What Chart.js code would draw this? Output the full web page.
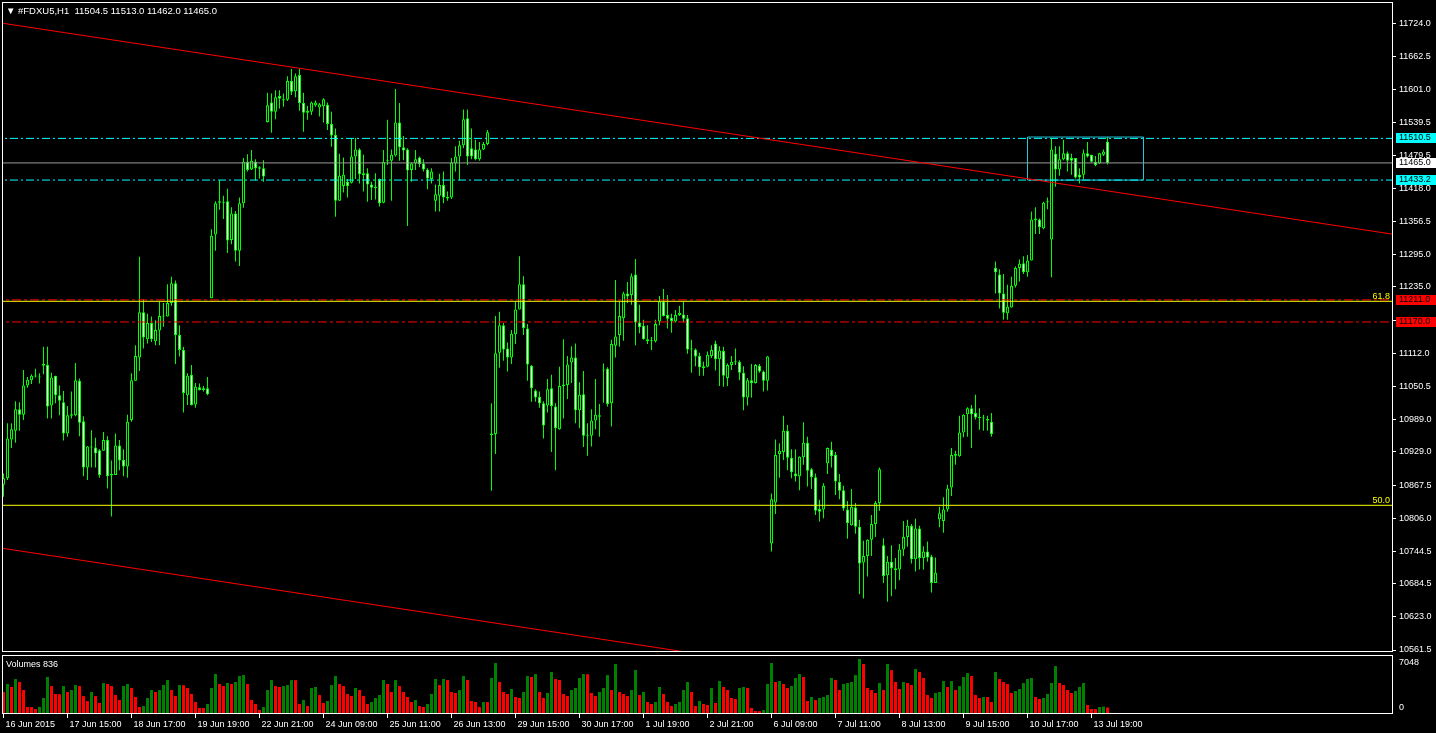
<!DOCTYPE html>
<html>
<head>
<meta charset="utf-8">
<title>#FDXU5,H1</title>
<script src="https://cdn.jsdelivr.net/npm/chart.js@4.4.1/dist/chart.umd.min.js"></script>
<style>
  html, body { margin: 0; padding: 0; background: #000; overflow: hidden; }
  canvas { position: absolute; left: 0; }
  #priceChart { top: 0; }
  #volumeChart { top: 654px; }
</style>
</head>
<body>
<canvas id="priceChart" width="1436" height="654"></canvas>
<canvas id="volumeChart" width="1436" height="79"></canvas>
<script>
// FDXU5 H1, 16 Jun 2015 -> 13 Jul 2015 (one value per hourly bar)
const opens = [
  10868,10880,10952,10968,11008,10998,11052,11062,11069,11069,
  11089,11090,11015,11070,11034,11021,10963,10996,10997,11061,
  10986,10900,10939,10937,10932,10931,10951,10888,10886,10941,
  10914,10902,10988,11061,11104,11188,11138,11168,11134,11154,
  11181,11180,11205,11242,11146,11118,11034,11072,11017,11049,
  11044,11047,11214,11332,11391,11393,11394,11322,11371,11302,
  11390,11467,11453,11467,11457,11455,11541,11577,11560,11589,
  11583,11582,11617,11598,11628,11576,11562,11560,11572,11568,
  11570,11573,11537,11517,11395,11422,11430,11428,11477,11490,
  11446,11446,11425,11421,11435,11391,11468,11469,11479,11540,
  11494,11490,11452,11464,11475,11464,11453,11435,11395,11404,
  11424,11402,11401,11464,11477,11498,11548,11492,11490,11472,
  11490,11500,10963,10962,11113,11164,11121,11104,11147,11193,
  11240,11158,11089,11043,11031,11019,11015,11047,11013,10971,
  11054,11053,11095,11104,11006,11036,10960,10959,10987,10997,
  11082,11083,11019,11126,11146,11177,11223,11220,11258,11169,
  11163,11138,11135,11134,11171,11208,11183,11178,11171,11183,
  11184,11177,11121,11119,11107,11088,11087,11107,11130,11101,
  11116,11066,11090,11096,11096,11076,11030,11062,11057,11089,
  11078,11061,10759,10835,10925,10929,10968,10918,10889,10884,
  10919,10946,10897,10882,10823,10822,10908,10933,10923,10873,
  10858,10822,10793,10826,10790,10724,10736,10766,10795,10834,
  10756,10700,10725,10713,10711,10748,10771,10792,10730,10787,
  10732,10744,10735,10686,10804,10801,10822,10863,10925,10921,
  10965,10999,11010,11001,10993,10993,10990,10985,11270,11258,
  11223,11186,11197,11237,11270,11279,11262,11284,11359,11360,
  11344,11393,11323,11482,11453,11472,11483,11474,11474,11443,
  11443,11483,11480,11467,11464,11480,11504.5
];
const highs = [
  10889,10982,10982,11023,11021,11081,11068,11073,11083,11075,
  11124,11124,11076,11070,11052,11042,11014,11041,11094,11065,
  10995,10940,10969,10955,10934,10966,10958,10913,10963,10951,
  10934,10998,11075,11127,11291,11212,11185,11180,11173,11208,
  11205,11240,11254,11247,11164,11124,11075,11090,11057,11056,
  11051,11068,11342,11394,11433,11404,11417,11383,11376,11401,
  11474,11481,11489,11472,11459,11470,11595,11594,11600,11600,
  11594,11626,11639,11631,11639,11595,11571,11579,11581,11576,
  11585,11577,11560,11529,11482,11475,11435,11511,11511,11492,
  11480,11455,11430,11446,11436,11489,11545,11490,11602,11576,
  11515,11492,11466,11489,11477,11472,11455,11455,11425,11445,
  11449,11412,11474,11496,11506,11564,11564,11529,11508,11504,
  11504,11526,11019,11181,11189,11168,11132,11155,11208,11292,
  11255,11166,11090,11045,11041,11023,11064,11072,11019,11087,
  11138,11107,11125,11130,11058,11079,10982,11008,11064,11018,
  11093,11086,11137,11248,11208,11226,11244,11260,11287,11202,
  11174,11164,11142,11174,11218,11231,11220,11185,11192,11200,
  11208,11183,11137,11121,11113,11096,11115,11127,11135,11125,
  11124,11093,11107,11121,11099,11088,11066,11092,11092,11092,
  11080,11107,10852,10952,10945,10996,10979,10934,10934,10921,
  10984,10957,10899,10889,10840,10871,10937,10948,10929,10888,
  10866,10838,10860,10834,10803,10764,10767,10812,10838,10900,
  10769,10736,10756,10732,10758,10801,10803,10795,10805,10792,
  10754,10763,10738,10733,10827,10845,10868,10936,10931,10996,
  10999,11012,11016,11035,11010,10998,10996,11001,11282,11268,
  11259,11239,11254,11273,11286,11292,11294,11375,11383,11362,
  11393,11401,11511,11496,11496,11508,11486,11482,11474,11455,
  11490,11504,11480,11478,11484,11490,11513.0
];
const lows = [
  10846,10877,10936,10946,10968,10988,11048,11055,11067,11056,
  11073,10991,10991,11019,10997,10950,10957,10991,10995,10958,
  10884,10877,10900,10900,10881,10931,10861,10809,10886,10895,
  10884,10881,10985,11061,11079,11121,11130,11133,11127,11127,
  11161,11180,11200,11092,11106,11002,11016,11015,11011,11043,
  11041,11034,11214,11302,11378,11361,11298,11314,11282,11274,
  11382,11449,11452,11433,11436,11430,11540,11521,11546,11566,
  11569,11580,11591,11587,11562,11523,11545,11554,11569,11551,
  11540,11526,11495,11365,11395,11410,11401,11427,11435,11427,
  11412,11393,11396,11397,11384,11390,11461,11395,11477,11469,
  11470,11348,11430,11452,11457,11449,11416,11427,11375,11375,
  11390,11395,11398,11449,11433,11492,11461,11472,11470,11469,
  11489,11498,10857,10925,11085,11098,11078,11092,11129,11193,
  11146,11061,11022,11022,11011,10954,11002,10929,10895,10970,
  10991,11027,11057,10982,10973,10938,10922,10939,10971,10957,
  11020,11013,10976,11104,11124,11135,11205,11202,11127,11149,
  11137,11129,11118,11132,11164,11180,11158,11150,11169,11181,
  11169,11111,11076,11088,11070,11070,11086,11103,11080,11051,
  11050,11051,11081,11090,11062,11006,11015,11030,11056,11076,
  11041,11043,10744,10814,10881,10914,10895,10880,10874,10858,
  10905,10865,10860,10812,10800,10806,10888,10900,10849,10841,
  10820,10768,10792,10777,10665,10657,10698,10736,10771,10820,
  10686,10651,10661,10674,10691,10736,10753,10722,10707,10711,
  10711,10725,10668,10686,10789,10779,10818,10847,10905,10920,
  10956,10957,10936,10989,10970,10968,10968,10957,11223,11195,
  11174,11174,11197,11234,11245,11259,11254,11284,11333,11333,
  11342,11379,11253,11421,11441,11470,11449,11443,11436,11427,
  11435,11475,11466,11459,11463,11478,11462.0
];
const closes = [
  10880,10954,10971,11008,10998,11052,11063,11070,11070,11067,
  11092,11013,11067,11034,11024,10963,10997,10999,11062,10983,
  10900,10939,10937,10926,10886,10951,10884,10885,10941,10913,
  10902,10985,11062,11107,11188,11141,11168,11138,11155,11181,
  11180,11205,11242,11146,11118,11038,11070,11016,11050,11044,
  11047,11036,11330,11390,11394,11391,11321,11371,11302,11390,
  11467,11452,11469,11455,11454,11440,11572,11560,11587,11584,
  11581,11617,11597,11626,11576,11558,11558,11577,11577,11574,
  11583,11537,11516,11395,11441,11443,11422,11477,11490,11444,
  11442,11425,11419,11418,11390,11467,11470,11480,11540,11494,
  11488,11451,11464,11472,11463,11453,11436,11449,11407,11424,
  11401,11399,11466,11477,11498,11546,11477,11477,11472,11490,
  11500,11522,10960,11112,11164,11119,11104,11148,11193,11240,
  11159,11091,11047,11030,11019,10978,11045,11014,10973,11051,
  11051,11091,11104,11006,11035,10959,10958,10987,10998,10994,
  11080,11018,11129,11143,11181,11223,11217,11255,11169,11160,
  11138,11134,11134,11166,11208,11181,11176,11172,11183,11187,
  11176,11119,11119,11106,11086,11084,11109,11118,11101,11117,
  11070,11090,11096,11098,11076,11030,11062,11057,11090,11078,
  11061,11106,10841,10923,10931,10968,10918,10891,10884,10920,
  10946,10894,10882,10820,10818,10866,10936,10921,10874,10857,
  10824,10797,10827,10790,10722,10736,10766,10795,10834,10897,
  10699,10725,10713,10710,10748,10771,10792,10730,10787,10732,
  10744,10733,10686,10705,10815,10822,10861,10923,10922,10965,
  10998,11010,10999,10993,10992,10991,10987,10962,11262,11223,
  11187,11198,11237,11270,11278,11262,11284,11360,11362,11346,
  11391,11392,11490,11453,11472,11483,11469,11469,11438,11438,
  11483,11477,11467,11461,11483,11486,11465.0
];
const volumes = [
  2820,3840,3460,4480,4100,3070,900,880,640,910,2050,4740,
  3580,2560,2540,3580,2820,3070,3710,3580,2300,1660,2820,2300,
  1410,3970,3840,3580,2430,1790,3580,3840,3330,2180,900,1020,
  2050,3070,2820,3070,3710,4350,3070,2300,3710,3690,3330,2560,
  1540,770,760,1280,3330,5120,3840,3580,3970,3840,4100,4860,
  4990,3840,1790,1280,510,900,3070,4350,3580,3460,3580,3710,
  4350,4340,1280,1790,1020,3330,3460,2430,1410,1660,3710,4860,
  3840,3580,2560,2300,3330,3070,2300,1280,1540,2050,2430,4350,
  3840,2820,4350,3580,2820,2180,1540,1790,1020,900,1280,2560,
  4480,3710,4480,4350,2820,2690,3070,4860,4350,1660,1540,900,
  1540,1530,4610,6530,4100,2820,2560,3200,2180,2050,2820,4860,
  4740,5120,2820,2050,2690,5380,4480,4350,2560,2300,3070,3330,
  4610,5120,5100,2690,2300,2820,3330,4990,3070,6400,2820,2560,
  2300,3070,5630,2430,2820,1540,1280,1540,3460,2560,1540,1020,
  1280,1540,3070,4100,2820,1020,1660,1280,1150,3330,1410,4220,
  3460,3070,2050,1920,3330,3460,3330,770,380,370,510,3840,
  6530,4100,4220,3840,3330,3580,4610,5120,4740,1660,2180,1790,
  2050,2180,2430,4610,4350,3070,3840,3970,4100,4990,7048,6400,
  3330,3070,2690,3970,3070,6400,5630,4100,3200,4100,3970,3710,
  5760,5380,4610,2430,2050,2690,2820,4220,3460,4220,3070,3580,
  4740,5250,4860,2430,2050,2180,2170,1540,5380,4480,4100,3840,
  2690,2940,3200,3970,4480,4610,2180,1920,2050,2560,3970,6140,
  3970,3710,3070,2690,2940,3460,3970,1150,640,630,900,950,836
];

// time axis: one label every 16 bars
const timeLabelBars = [0,16,32,48,64,80,96,112,128,144,160,176,192,208,224,240,256,272];
const timeLabels = ["16 Jun 2015","17 Jun 15:00","18 Jun 17:00","19 Jun 19:00","22 Jun 21:00",
  "24 Jun 09:00","25 Jun 11:00","26 Jun 13:00","29 Jun 15:00","30 Jun 17:00","1 Jul 19:00",
  "2 Jul 21:00","6 Jul 09:00","7 Jul 11:00","8 Jul 13:00","9 Jul 15:00","10 Jul 17:00","13 Jul 19:00"];
const priceTicks = [11724.0,11662.5,11601.0,11539.5,11479.5,11418.0,11356.5,11295.0,11235.0,11173.5,
  11112.0,11050.5,10989.0,10929.0,10867.5,10806.0,10744.5,10684.5,10623.0,10561.5];

// objects drawn on the chart
const cyanLevels = [11510.5, 11433.2];
const redLevels = [11211.0, 11170.0];
const fibLevels = [11208.3, 10829.9];
const fibNames = ["61.8", "50.0"];
const upperTrend = [[-1, 11725], [348, 11332]];
const lowerTrend = [[-1, 10751], [348, 10358]];
const boxBars = [256, 285];
const boxPrices = [11513.0, 11433.2];

const X_MIN = -0.375, X_MAX = 347.125;
const PRICE_MIN = 10557.8, PRICE_MAX = 11763.5;
const VOL_MAX = 7432;
const FONT = "'Liberation Sans', 'DejaVu Sans', sans-serif";
const LIME = "#00ff00";
const CYAN = "#00ffff";

Chart.defaults.font.family = FONT;
Chart.defaults.font.size = 9;
Chart.defaults.color = "#ffffff";

const last = closes.length - 1;
const bars = closes.map((_, i) => i);

function hLine(price, color, dash) {
  return {
    type: "line", order: 1, borderColor: color, borderWidth: 1, borderDash: dash,
    pointRadius: 0, fill: false,
    data: [{ x: X_MIN - 2, y: price }, { x: X_MAX + 2, y: price }],
  };
}

function trendLine(pts) {
  return {
    type: "line", order: 1, borderColor: "#ff0000", borderWidth: 1,
    pointRadius: 0, fill: false,
    data: pts.map(([x, y]) => ({ x, y })),
  };
}

// frame + texts + price tags on the right scale
const priceOverlay = {
  id: "priceOverlay",
  afterDraw(chart) {
    const { ctx, chartArea: a } = chart;
    const y = chart.scales.y;
    ctx.save();
    ctx.strokeStyle = "#ffffff";
    ctx.lineWidth = 1;
    ctx.strokeRect(a.left + 0.5, a.top + 0.5, a.right - a.left, a.bottom - a.top - 1);

    ctx.font = "9.5px " + FONT;
    ctx.textBaseline = "middle";
    ctx.fillStyle = "#ffffff";
    ctx.fillText("\u25BC", 6, 11);
    const ohlc = [opens[last], highs[last], lows[last], closes[last]].map((v) => v.toFixed(1)).join(" ");
    ctx.fillText("#FDXU5,H1  " + ohlc, 18, 11);

    ctx.font = "9px " + FONT;
    ctx.fillStyle = "#ffff00";
    ctx.textAlign = "right";
    fibLevels.forEach((p, i) => ctx.fillText(fibNames[i], a.right - 2, y.getPixelForValue(p) - 5));

    const tags = [
      { p: cyanLevels[0], bg: CYAN },
      { p: closes[last], bg: "#ffffff" },
      { p: cyanLevels[1], bg: CYAN },
      { p: redLevels[0], bg: "#ff0000" },
      { p: redLevels[1], bg: "#ff0000" },
    ];
    ctx.textAlign = "left";
    tags.forEach((t) => {
      const py = Math.round(y.getPixelForValue(t.p));
      ctx.fillStyle = t.bg;
      ctx.fillRect(a.right + 4, py - 5, 40, 10);
      ctx.fillStyle = "#000000";
      ctx.fillText(t.p.toFixed(1), a.right + 7, py);
    });
    ctx.restore();
  },
};

const volumeOverlay = {
  id: "volumeOverlay",
  afterDraw(chart) {
    const { ctx, chartArea: a } = chart;
    ctx.save();
    ctx.strokeStyle = "#ffffff";
    ctx.lineWidth = 1;
    ctx.strokeRect(a.left + 0.5, a.top - 0.5, a.right - a.left, a.bottom - a.top);
    ctx.font = "9px " + FONT;
    ctx.textBaseline = "middle";
    ctx.fillStyle = "#ffffff";
    ctx.fillText("Volumes " + volumes[last], 6, 11);
    ctx.fillText(String(Math.max(...volumes)), a.right + 7, a.top + 7);
    ctx.fillText("0", a.right + 7, a.bottom - 6);
    ctx.restore();
  },
};

document.addEventListener("DOMContentLoaded", () => {
  const bodyColors = bars.map((i) => (closes[i] < opens[i] ? "#ffffff" : "#000000"));

  const datasets = [
    {
      // candle bodies
      type: "bar", order: 10, grouped: false, barThickness: 3, minBarLength: 1,
      inflateAmount: 0, borderSkipped: false, borderWidth: 1,
      borderColor: LIME, backgroundColor: bodyColors,
      data: bars.map((i) => ({ x: i, y: [Math.min(opens[i], closes[i]), Math.max(opens[i], closes[i])] })),
    },
    {
      // wicks
      type: "bar", order: 11, grouped: false, barThickness: 1, minBarLength: 1,
      inflateAmount: 0, borderWidth: 0, backgroundColor: LIME,
      data: bars.map((i) => ({ x: i, y: [lows[i], highs[i]] })),
    },
    trendLine(upperTrend),
    trendLine(lowerTrend),
    hLine(fibLevels[0], "#ffff00", []),
    hLine(fibLevels[1], "#ffff00", []),
    hLine(closes[last], "#9a9a9a", []),
    hLine(cyanLevels[0], CYAN, [8, 3, 2, 3]),
    hLine(cyanLevels[1], CYAN, [8, 3, 2, 3]),
    hLine(redLevels[0], "#ff0000", [9, 3, 3, 3]),
    hLine(redLevels[1], "#ff0000", [9, 3, 3, 3]),
    {
      // rectangle around the 13 Jul range
      type: "line", order: 1, borderColor: "#22c8dc", borderWidth: 1, pointRadius: 0, fill: false,
      data: [
        { x: boxBars[0], y: boxPrices[0] }, { x: boxBars[1], y: boxPrices[0] },
        { x: boxBars[1], y: boxPrices[1] }, { x: boxBars[0], y: boxPrices[1] },
        { x: boxBars[0], y: boxPrices[0] },
      ],
    },
  ];

  new Chart(document.getElementById("priceChart"), {
    type: "bar",
    data: { datasets },
    plugins: [priceOverlay],
    options: {
      responsive: false,
      animation: false,
      devicePixelRatio: 1,
      events: [],
      layout: { padding: { left: 2, top: 2, right: 0, bottom: 2 } },
      plugins: { legend: { display: false }, tooltip: { enabled: false } },
      scales: {
        x: { type: "linear", min: X_MIN, max: X_MAX, offset: false, display: false },
        y: {
          position: "right",
          min: PRICE_MIN,
          max: PRICE_MAX,
          afterBuildTicks: (s) => { s.ticks = priceTicks.map((v) => ({ value: v })); },
          afterFit: (s) => { s.width = 44; s.paddingTop = 0; s.paddingBottom = 0; },
          border: { display: false },
          grid: { display: true, drawOnChartArea: false, drawTicks: true, tickLength: 4, color: "#ffffff" },
          ticks: { color: "#ffffff", padding: 3, autoSkip: false, callback: (v) => Number(v).toFixed(1) },
        },
      },
    },
  });

  const volColors = volumes.map((v, i) => (i > 0 && v > volumes[i - 1] ? "#008000" : "#ff0000"));

  new Chart(document.getElementById("volumeChart"), {
    type: "bar",
    data: {
      datasets: [{
        barThickness: 3, inflateAmount: 0, borderWidth: 0,
        backgroundColor: volColors,
        data: bars.map((i) => ({ x: i, y: volumes[i] })),
      }],
    },
    plugins: [volumeOverlay],
    options: {
      responsive: false,
      animation: false,
      devicePixelRatio: 1,
      events: [],
      layout: { padding: { left: 2, top: 2, right: 0, bottom: 0 } },
      plugins: { legend: { display: false }, tooltip: { enabled: false } },
      scales: {
        x: {
          type: "linear", min: X_MIN, max: X_MAX, offset: false,
          afterBuildTicks: (s) => { s.ticks = timeLabelBars.map((v) => ({ value: v })); },
          afterFit: (s) => { s.height = 19; s.paddingLeft = 0; s.paddingRight = 0; },
          border: { display: false },
          grid: { display: true, offset: false, drawOnChartArea: false, drawTicks: true, tickLength: 4, color: "#ffffff" },
          ticks: {
            color: "#ffffff", padding: 1, align: "start", labelOffset: 2,
            autoSkip: false, maxRotation: 0, minRotation: 0,
            callback: (v, i) => timeLabels[i],
          },
        },
        y: {
          position: "right", min: 0, max: VOL_MAX,
          afterFit: (s) => { s.width = 44; s.paddingTop = 0; s.paddingBottom = 0; },
          border: { display: false },
          grid: { display: false },
          ticks: { display: false },
        },
      },
    },
  });
});
</script>
</body>
</html>
